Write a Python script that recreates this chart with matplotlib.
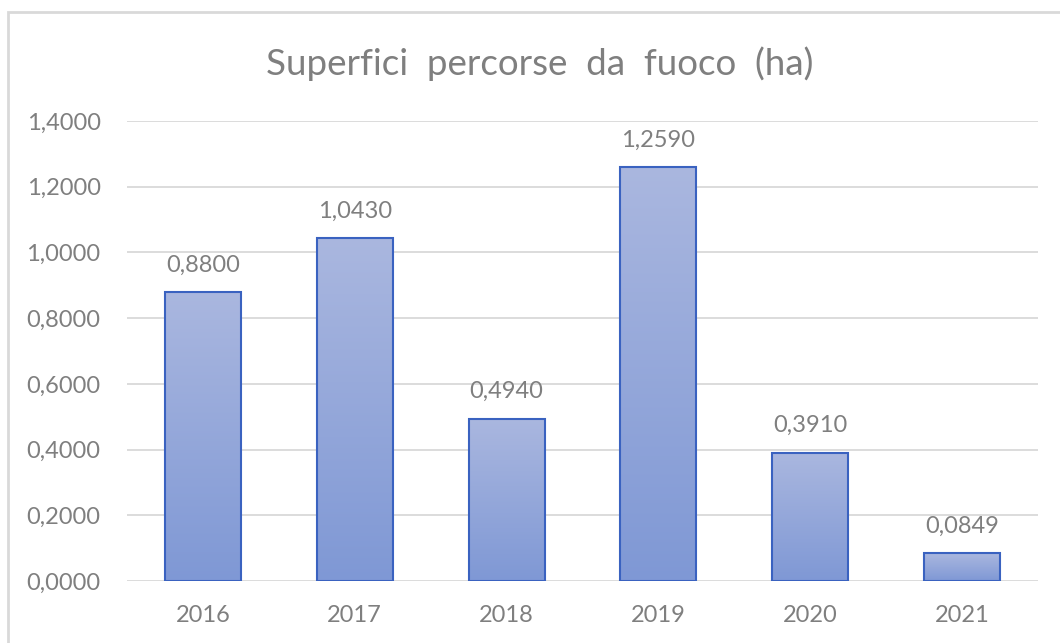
import matplotlib
matplotlib.use("Agg")
import matplotlib.pyplot as plt
import matplotlib.patches as mpatches
import numpy as np

YEARS = ["2016", "2017", "2018", "2019", "2020", "2021"]
VALUES = [0.8800, 1.0430, 0.4940, 1.2590, 0.3910, 0.0849]
TITLE = "Superfici  percorse  da  fuoco  (ha)"

TEXT_COLOR = "#7F7F7F"
GRID_COLOR = "#D9D9D9"
TOP_COLOR = np.array([0xAA, 0xB7, 0xDF]) / 255
BOTTOM_COLOR = np.array([0x7F, 0x98, 0xD5]) / 255
EDGE_COLOR = "#3A62C0"

plt.rcParams["font.family"] = ["Lato", "DejaVu Sans"]


def fmt(v):
    return f"{v:.4f}".replace(".", ",")


fig = plt.figure(figsize=(10.6, 6.43), dpi=100)
ax = fig.add_axes([127 / 1060, 1 - 581 / 643, 911 / 1060, 460 / 643])

# bordo del grafico (tagliato a destra/in basso come nello screenshot)
fig.patches.append(mpatches.Rectangle((8 / 1060, -0.05), 1.1, 1 - 12 / 643 + 0.05,
                                      transform=fig.transFigure, fill=False,
                                      edgecolor=GRID_COLOR, linewidth=2))

x = np.arange(len(YEARS))
width = 0.5
grad = np.linspace(0, 1, 256).reshape(-1, 1, 1)
img = BOTTOM_COLOR * (1 - grad) + TOP_COLOR * grad  # riga 0 = fondo

bars = ax.bar(x, VALUES, width, color="none", edgecolor=EDGE_COLOR, linewidth=1.5, zorder=3)
for bar, val in zip(bars, VALUES):
    x0 = bar.get_x()
    ax.imshow(img, extent=(x0, x0 + width, 0, val), origin="lower",
              aspect="auto", zorder=2, interpolation="bilinear")
    ax.text(x0 + width / 2, val + 0.062, fmt(val), ha="center", va="baseline",
            fontsize=17, color=TEXT_COLOR)

ax.set_xlim(-0.5, len(YEARS) - 0.5)
ax.set_ylim(0, 1.4)
ax.set_yticks(np.arange(0, 1.41, 0.2))
ax.set_yticklabels([fmt(v) for v in np.arange(0, 1.41, 0.2)])
ax.set_xticks(x)
ax.set_xticklabels(YEARS)
ax.tick_params(axis="both", length=0, labelsize=17, labelcolor=TEXT_COLOR)
ax.tick_params(axis="y", pad=19)
ax.tick_params(axis="x", pad=17)
ax.grid(axis="y", color=GRID_COLOR, linewidth=1.3, zorder=0)
ax.set_axisbelow(True)
for s in ax.spines.values():
    s.set_visible(False)

fig.text(540 / 1060, 1 - 64 / 643, TITLE, ha="center", va="center",
         fontsize=26.5, color=TEXT_COLOR)

fig.savefig("out.png", dpi=100)
